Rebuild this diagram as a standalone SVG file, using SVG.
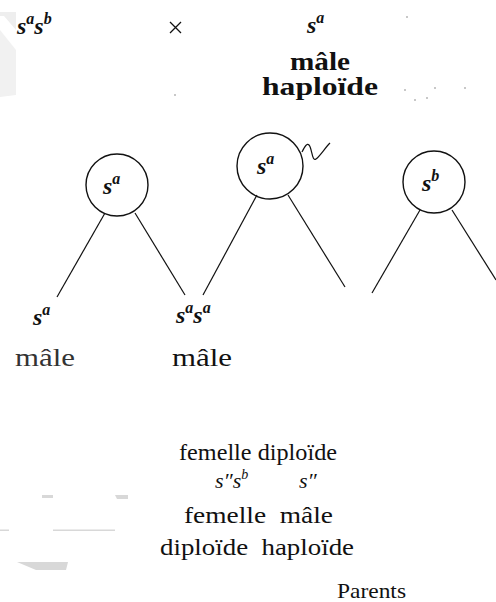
<svg xmlns="http://www.w3.org/2000/svg" width="496" height="602" viewBox="0 0 496 602" font-family="'Liberation Serif', 'DejaVu Serif', serif">
<style>
text{font-family:'Liberation Serif','DejaVu Serif',serif;fill:#111}
.b{font-weight:bold}
.i{font-style:italic}
.node circle{fill:none;stroke:#111;stroke-width:1.4}
.conn line,.conn path{stroke:#111;stroke-width:1.2;fill:none}
.wm{fill:#d8d8d8}
</style>
<rect width="496" height="602" fill="#fff"/>
<g id="watermark">
<polygon points="0,12 16,12 16,30 4,16 0,16" fill="#eeeeee"/>
<polygon points="0,30 16,50 16,95 0,97" fill="#f1f1f1"/>
<polygon points="42,495 53,495 53,498 42,498" class="wm"/>
<polygon points="115,495 128,495 128,499 117,499" class="wm"/>
<rect x="0" y="529.5" width="9" height="1.5" class="wm"/>
<rect x="53" y="529.5" width="62" height="1.5" class="wm"/>
<path d="M17,562 L68,562 L66,570 L36,570 Z" class="wm"/>
</g>
<g id="dots" fill="#666">
<circle cx="175" cy="95" r="0.7"/>
<circle cx="407" cy="17" r="0.7"/>
<circle cx="405" cy="90" r="0.7"/>
<circle cx="435" cy="88" r="0.7"/>
<circle cx="465" cy="88" r="0.7"/>
<circle cx="415" cy="100" r="0.7"/>
<circle cx="427" cy="98" r="0.7"/>
</g>
<g id="top-left">
<text class="b i" x="17" y="34" font-size="24">s<tspan font-size="16" dy="-10">a</tspan><tspan dy="10">s</tspan><tspan font-size="16" dy="-10">b</tspan></text>
</g>
<g id="cross"><path d="M170,22 L181,33 M181,22 L170,33" stroke="#111" stroke-width="1.3"/></g>
<g id="top-right">
<text class="b i" x="307" y="33" font-size="24">s<tspan font-size="16" dy="-10">a</tspan></text>
<text class="b" x="290" y="70" font-size="25" textLength="60" lengthAdjust="spacingAndGlyphs">mâle</text>
<text class="b" x="262" y="95" font-size="25" textLength="116" lengthAdjust="spacingAndGlyphs">haploïde</text>
</g>
<g class="conn" id="connectors">
<line x1="105" y1="213" x2="57" y2="297"/>
<line x1="135" y1="213" x2="185" y2="295"/>
<line x1="257" y1="195" x2="203" y2="295"/>
<line x1="288" y1="195" x2="345" y2="287"/>
<line x1="420" y1="210" x2="372" y2="293"/>
<line x1="452" y1="210" x2="496" y2="280"/>
<path d="M302,152 C305,146 307,143 309,145 C312,148 312,162 316,159 C320,156 325,148 330,143"/>
</g>
<g class="node" id="n1">
<circle cx="117" cy="185" r="31"/>
<text class="b i" x="103" y="194" font-size="24">s<tspan font-size="16" dy="-10">a</tspan></text>
</g>
<g class="node" id="n2">
<circle cx="270" cy="166" r="33"/>
<text class="b i" x="257" y="174" font-size="24">s<tspan font-size="16" dy="-10">a</tspan></text>
</g>
<g class="node" id="n3">
<circle cx="434" cy="182" r="31"/>
<text class="b i" x="422" y="191" font-size="24">s<tspan font-size="16" dy="-10">b</tspan></text>
</g>
<g id="bottom-labels">
<text class="b i" x="33" y="325" font-size="24">s<tspan font-size="16" dy="-10">a</tspan></text>
<text class="b i" x="176" y="323" font-size="24">s<tspan font-size="16" dy="-10">a</tspan><tspan dy="10">s</tspan><tspan font-size="16" dy="-10">a</tspan></text>
<text x="15" y="366" font-size="26" textLength="60" lengthAdjust="spacingAndGlyphs" style="fill:#333">mâle</text>
<text x="172" y="366" font-size="26" textLength="60" lengthAdjust="spacingAndGlyphs">mâle</text>
</g>
<g id="legend">
<text x="258" y="460" font-size="23" text-anchor="middle" textLength="158" lengthAdjust="spacingAndGlyphs">femelle diploïde</text>
<text class="i" x="215" y="488" font-size="22">s″s<tspan font-size="14" dy="-9">b</tspan></text>
<text class="i" x="299" y="488" font-size="22">s″</text>
<text x="184" y="523" font-size="23" textLength="149" lengthAdjust="spacingAndGlyphs" xml:space="preserve">femelle  mâle</text>
<text x="160" y="555" font-size="23" textLength="194" lengthAdjust="spacingAndGlyphs" xml:space="preserve">diploïde  haploïde</text>
<text x="337" y="598" font-size="22" textLength="69" lengthAdjust="spacingAndGlyphs">Parents</text>
</g>
</svg>
